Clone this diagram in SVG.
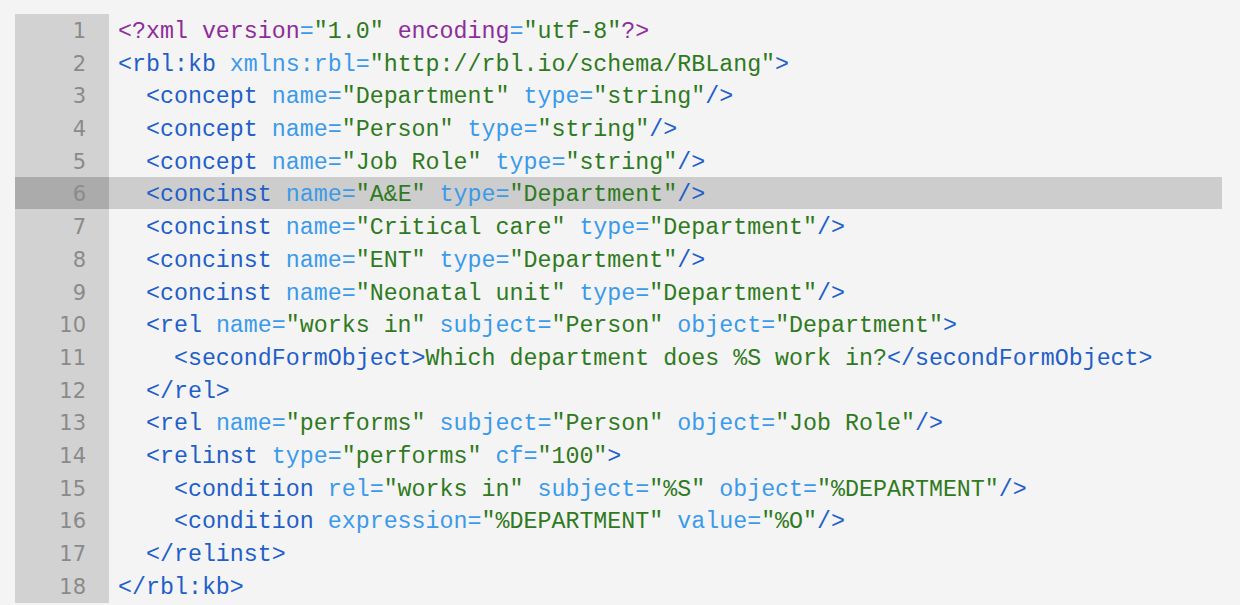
<svg xmlns="http://www.w3.org/2000/svg" width="1240" height="605" viewBox="0 0 1240 605">
<style>
text{font-family:"Liberation Mono","DejaVu Sans Mono",monospace;font-size:23.3px;white-space:pre}
.n{fill:#8a8a8a;text-anchor:end;font-family:"DejaVu Sans","Liberation Sans",sans-serif;font-size:21px}
.t{fill:#1f5fc8}.a{fill:#3b9ae9}.s{fill:#2f7a20}.p{fill:#8e2c9a}
</style>
<rect width="1240" height="605" fill="#f4f4f4"/>
<rect x="15" y="14" width="94" height="589" fill="#d2d2d2"/>
<rect x="109" y="177" width="1113" height="32" fill="#cdcdcd"/>
<rect x="15" y="177" width="94" height="32" fill="#ababab"/>
<g id="gutter">
<text class="n" x="86" y="38">1</text><text class="n" x="86" y="71">2</text><text class="n" x="86" y="103">3</text><text class="n" x="86" y="136">4</text><text class="n" x="86" y="169">5</text><text class="n" x="86" y="201">6</text><text class="n" x="86" y="234">7</text><text class="n" x="86" y="267">8</text><text class="n" x="86" y="300">9</text><text class="n" x="86" y="332">10</text><text class="n" x="86" y="365">11</text><text class="n" x="86" y="398">12</text><text class="n" x="86" y="430">13</text><text class="n" x="86" y="463">14</text><text class="n" x="86" y="496">15</text><text class="n" x="86" y="528">16</text><text class="n" x="86" y="561">17</text><text class="n" x="86" y="594">18</text>
</g>
<g id="code" xml:space="preserve">
<text x="118" y="38"><tspan class="p">&lt;?xml</tspan> <tspan class="p">version</tspan><tspan class="a">=</tspan><tspan class="s">"1.0"</tspan> <tspan class="p">encoding</tspan><tspan class="a">=</tspan><tspan class="s">"utf-8"</tspan><tspan class="p">?&gt;</tspan></text>
<text x="118" y="71"><tspan class="t">&lt;rbl:kb</tspan> <tspan class="a">xmlns:rbl=</tspan><tspan class="s">"http://rbl.io/schema/RBLang"</tspan><tspan class="t">&gt;</tspan></text>
<text x="118" y="103">  <tspan class="t">&lt;concept</tspan> <tspan class="a">name=</tspan><tspan class="s">"Department"</tspan> <tspan class="a">type=</tspan><tspan class="s">"string"</tspan><tspan class="t">/&gt;</tspan></text>
<text x="118" y="136">  <tspan class="t">&lt;concept</tspan> <tspan class="a">name=</tspan><tspan class="s">"Person"</tspan> <tspan class="a">type=</tspan><tspan class="s">"string"</tspan><tspan class="t">/&gt;</tspan></text>
<text x="118" y="169">  <tspan class="t">&lt;concept</tspan> <tspan class="a">name=</tspan><tspan class="s">"Job Role"</tspan> <tspan class="a">type=</tspan><tspan class="s">"string"</tspan><tspan class="t">/&gt;</tspan></text>
<text x="118" y="201">  <tspan class="t">&lt;concinst</tspan> <tspan class="a">name=</tspan><tspan class="s">"A&amp;E"</tspan> <tspan class="a">type=</tspan><tspan class="s">"Department"</tspan><tspan class="t">/&gt;</tspan></text>
<text x="118" y="234">  <tspan class="t">&lt;concinst</tspan> <tspan class="a">name=</tspan><tspan class="s">"Critical care"</tspan> <tspan class="a">type=</tspan><tspan class="s">"Department"</tspan><tspan class="t">/&gt;</tspan></text>
<text x="118" y="267">  <tspan class="t">&lt;concinst</tspan> <tspan class="a">name=</tspan><tspan class="s">"ENT"</tspan> <tspan class="a">type=</tspan><tspan class="s">"Department"</tspan><tspan class="t">/&gt;</tspan></text>
<text x="118" y="300">  <tspan class="t">&lt;concinst</tspan> <tspan class="a">name=</tspan><tspan class="s">"Neonatal unit"</tspan> <tspan class="a">type=</tspan><tspan class="s">"Department"</tspan><tspan class="t">/&gt;</tspan></text>
<text x="118" y="332">  <tspan class="t">&lt;rel</tspan> <tspan class="a">name=</tspan><tspan class="s">"works in"</tspan> <tspan class="a">subject=</tspan><tspan class="s">"Person"</tspan> <tspan class="a">object=</tspan><tspan class="s">"Department"</tspan><tspan class="t">&gt;</tspan></text>
<text x="118" y="365">    <tspan class="t">&lt;secondFormObject&gt;</tspan><tspan class="s">Which department does %S work in?</tspan><tspan class="t">&lt;/secondFormObject&gt;</tspan></text>
<text x="118" y="398">  <tspan class="t">&lt;/rel&gt;</tspan></text>
<text x="118" y="430">  <tspan class="t">&lt;rel</tspan> <tspan class="a">name=</tspan><tspan class="s">"performs"</tspan> <tspan class="a">subject=</tspan><tspan class="s">"Person"</tspan> <tspan class="a">object=</tspan><tspan class="s">"Job Role"</tspan><tspan class="t">/&gt;</tspan></text>
<text x="118" y="463">  <tspan class="t">&lt;relinst</tspan> <tspan class="a">type=</tspan><tspan class="s">"performs"</tspan> <tspan class="a">cf=</tspan><tspan class="s">"100"</tspan><tspan class="t">&gt;</tspan></text>
<text x="118" y="496">    <tspan class="t">&lt;condition</tspan> <tspan class="a">rel=</tspan><tspan class="s">"works in"</tspan> <tspan class="a">subject=</tspan><tspan class="s">"%S"</tspan> <tspan class="a">object=</tspan><tspan class="s">"%DEPARTMENT"</tspan><tspan class="t">/&gt;</tspan></text>
<text x="118" y="528">    <tspan class="t">&lt;condition</tspan> <tspan class="a">expression=</tspan><tspan class="s">"%DEPARTMENT"</tspan> <tspan class="a">value=</tspan><tspan class="s">"%O"</tspan><tspan class="t">/&gt;</tspan></text>
<text x="118" y="561">  <tspan class="t">&lt;/relinst&gt;</tspan></text>
<text x="118" y="594"><tspan class="t">&lt;/rbl:kb&gt;</tspan></text>
</g>
</svg>
